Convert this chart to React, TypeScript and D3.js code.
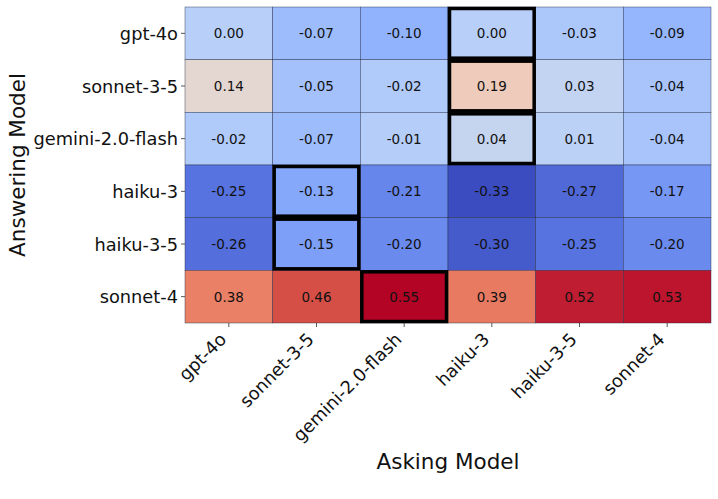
import React from 'react';
import * as d3 from 'd3';

const askingModels = ['gpt-4o', 'sonnet-3-5', 'gemini-2.0-flash', 'haiku-3', 'haiku-3-5', 'sonnet-4'];
const answeringModels = ['gpt-4o', 'sonnet-3-5', 'gemini-2.0-flash', 'haiku-3', 'haiku-3-5', 'sonnet-4'];

// rows = answering model, columns = asking model
const values: number[][] = [
  [0.0, -0.07, -0.1, 0.0, -0.03, -0.09],
  [0.14, -0.05, -0.02, 0.19, 0.03, -0.04],
  [-0.02, -0.07, -0.01, 0.04, 0.01, -0.04],
  [-0.25, -0.13, -0.21, -0.33, -0.27, -0.17],
  [-0.26, -0.15, -0.2, -0.3, -0.25, -0.2],
  [0.38, 0.46, 0.55, 0.39, 0.52, 0.53],
];

// [row, col] cells drawn with a heavy outline
const highlighted: [number, number][] = [
  [0, 3], [1, 3], [2, 3],
  [3, 1], [4, 1],
  [5, 2],
];

// matplotlib "coolwarm" approximated by its stops
const coolwarmStops = [
  '#3b4cc0', '#6282ea', '#8db0fe', '#b8d0f9', '#dddddd',
  '#f5c4ad', '#f49a7b', '#de604d', '#b40426',
];

const W = 718;
const H = 499;
const margin = { left: 185, top: 7, right: 7, bottom: 176 };

const App: React.FC = () => {
  const flat = values.flat();
  const vmin = d3.min(flat) as number;
  const vmax = d3.max(flat) as number;
  const interp = d3.piecewise(d3.interpolateRgb, coolwarmStops);
  const color = (v: number) => interp((v - vmin) / (vmax - vmin));

  const x = d3.scaleBand<string>().domain(askingModels).range([margin.left, W - margin.right]);
  const y = d3.scaleBand<string>().domain(answeringModels).range([margin.top, H - margin.bottom]);
  const bw = x.bandwidth();
  const bh = y.bandwidth();
  const bottom = H - margin.bottom;
  const font = 'DejaVu Sans, sans-serif';

  return (
    <svg width={W} height={H} style={{ position: 'absolute', left: 0, top: 0 }} fontFamily={font}>
      <rect width={W} height={H} fill="#fff" />
      {values.map((row, i) =>
        row.map((v, j) => (
          <g key={`${i}-${j}`}>
            <rect
              x={x(askingModels[j])}
              y={y(answeringModels[i])}
              width={bw}
              height={bh}
              fill={color(v)}
              stroke="#1f2a44"
              strokeOpacity={0.7}
              strokeWidth={0.6}
            />
            <text
              x={(x(askingModels[j]) as number) + bw / 2}
              y={(y(answeringModels[i]) as number) + bh / 2}
              textAnchor="middle"
              dominantBaseline="central"
              fontSize={13.5}
              fill="#111"
            >
              {v.toFixed(2)}
            </text>
          </g>
        ))
      )}
      {highlighted.map(([i, j]) => (
        <rect
          key={`h-${i}-${j}`}
          x={(x(askingModels[j]) as number) + 1.5}
          y={(y(answeringModels[i]) as number) + 1.5}
          width={bw - 3}
          height={bh - 3}
          fill="none"
          stroke="#000"
          strokeWidth={3.5}
        />
      ))}

      {/* y axis */}
      {answeringModels.map(m => {
        const cy = (y(m) as number) + bh / 2;
        return (
          <g key={`y-${m}`}>
            <line x1={margin.left - 4} x2={margin.left} y1={cy} y2={cy} stroke="#555" />
            <text x={margin.left - 7} y={cy} textAnchor="end" dominantBaseline="central" fontSize={17.8} fill="#111">
              {m}
            </text>
          </g>
        );
      })}

      {/* x axis */}
      {askingModels.map(m => {
        const cx = (x(m) as number) + bw / 2;
        return (
          <g key={`x-${m}`}>
            <line x1={cx} x2={cx} y1={bottom} y2={bottom + 4} stroke="#555" />
            <text
              transform={`translate(${cx - 6},${bottom + 13}) rotate(-45)`}
              textAnchor="end"
              dominantBaseline="central"
              fontSize={17.8}
              fill="#111"
            >
              {m}
            </text>
          </g>
        );
      })}

      <text x={(margin.left + W - margin.right) / 2} y={469} textAnchor="middle" fontSize={21.5} fill="#111">
        Asking Model
      </text>
      <text
        transform={`translate(25,${(margin.top + bottom) / 2}) rotate(-90)`}
        textAnchor="middle"
        fontSize={21.5}
        fill="#111"
      >
        Answering Model
      </text>
    </svg>
  );
};

export default App;
